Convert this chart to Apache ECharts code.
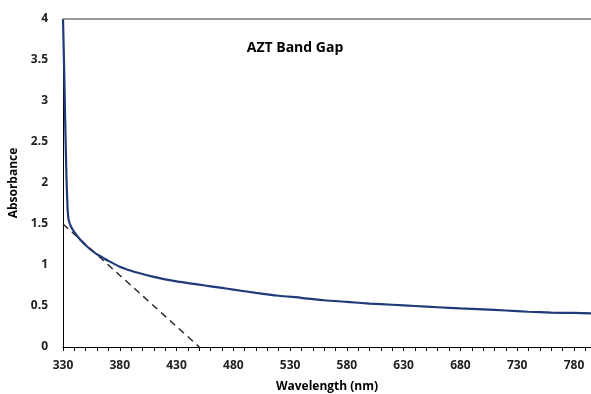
<!DOCTYPE html>
<html><head><meta charset="utf-8">
<script src="https://cdn.jsdelivr.net/npm/echarts@6/dist/echarts.min.js"></script>
<style>html,body{margin:0;padding:0;background:#fff}#c{width:591px;height:394px}</style>
</head><body><div id="c"></div>
<script>
const wavelength = [330,331,332,333,334,335,337,340,345,350,355,360,365,370,380,390,400,410,420,430,440,450,460,470,480,500,520,540,560,580,600,620,640,660,680,700,720,740,760,780,795];
const absorbance = [4.0,3.4,2.7,2.1,1.7,1.55,1.47,1.40,1.31,1.24,1.18,1.13,1.09,1.05,0.98,0.93,0.89,0.855,0.825,0.80,0.78,0.76,0.74,0.72,0.70,0.66,0.625,0.60,0.57,0.55,0.53,0.515,0.50,0.485,0.47,0.46,0.445,0.43,0.42,0.415,0.41];
const tangentX = [330, 450];
const tangentY = [1.5, 0];
const chart = echarts.init(document.getElementById('c'));
const font = 'Open Sans';
chart.setOption({
  animation: false,
  title: { text: 'AZT Band Gap', left: 290, top: 36, textAlign: 'center',
    textStyle: { fontFamily: font, fontWeight: 'bold', fontSize: 14, color: '#000' } },
  grid: { left: 63, top: 19, right: 0, bottom: 47, outerBoundsMode: 'none', containLabel: false },
  xAxis: {
    type: 'value', min: 330, max: 795, interval: 50,
    name: 'Wavelength (nm)', nameLocation: 'middle', nameGap: 34,
    nameTextStyle: { fontFamily: font, fontWeight: 'bold', fontSize: 12, color: '#000' },
    axisLine: { lineStyle: { color: '#000', width: 1 } },
    axisTick: { show: true, length: 4, lineStyle: { color: '#000' } },
    minorTick: { show: true, splitNumber: 5, length: 4, lineStyle: { color: '#000' } },
    axisLabel: { fontFamily: font, fontWeight: 'bold', fontSize: 12, color: '#222', margin: 13,
      showMaxLabel: false },
    splitLine: { show: false }
  },
  yAxis: {
    type: 'value', min: 0, max: 4, interval: 0.5,
    name: 'Absorbance', nameLocation: 'middle', nameGap: 37, nameRotate: 90,
    nameTextStyle: { fontFamily: font, fontWeight: 'bold', fontSize: 12, color: '#000' },
    axisLine: { show: true, lineStyle: { color: '#000', width: 1 } },
    axisTick: { show: false },
    axisLabel: { fontFamily: font, fontWeight: 'bold', fontSize: 12, color: '#222', margin: 15 },
    splitLine: { show: false }
  },
  series: [
    { type: 'line', data: wavelength.map((w, i) => [w, absorbance[i]]), showSymbol: false,
      smooth: 0.2, lineStyle: { color: '#1F3A78', width: 2.2 }, z: 3,
      markLine: { silent: true, symbol: 'none', label: { show: false },
        lineStyle: { color: '#777', type: 'solid', width: 1.5 }, data: [{ yAxis: 4 }] } },
    { type: 'line', data: tangentX.map((x, i) => [x, tangentY[i]]), showSymbol: false,
      lineStyle: { color: '#222', type: [7, 5], width: 1.4 }, z: 2 }
  ]
});
</script></body></html>
